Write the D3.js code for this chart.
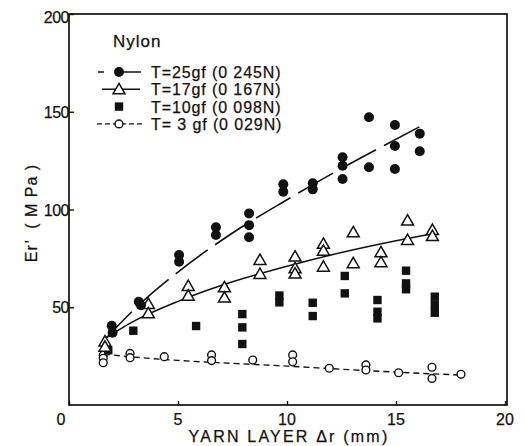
<!DOCTYPE html>
<html>
<head>
<meta charset="utf-8">
<script src="https://cdn.jsdelivr.net/npm/d3@7"></script>
<style>
  body { margin: 0; background: #fff; }
  svg text { font-family: "Liberation Sans", Arial, Helvetica, sans-serif; fill: #111; stroke: #111; stroke-width: 0.25px; }
</style>
</head>
<body>
<svg id="chart" width="527" height="446"></svg>
<script>
// measured points, [layer mm, Er' MPa]
var t25Pts = [[1.96,40.5],[2.0,37],[3.2,52.8],[3.3,51],[5.05,76.7],[5.05,73.3],[6.74,90.9],[6.74,87],
  [8.26,98],[8.26,92],[8.26,85.8],[9.83,112.9],[9.83,109.1],[11.18,113.4],[11.18,110.3],
  [12.55,126.7],[12.55,122.4],[12.55,115.6],[13.76,147.2],[13.76,121.6],[14.95,143.2],
  [14.95,132.5],[14.95,120.7],[16.09,138.8],[16.09,129.8]];
var t17Pts = [[1.65,32.5],[1.65,29.8],[3.64,51.7],[3.64,46.9],[5.47,60.9],[5.47,55.9],[7.13,60.2],
  [7.13,54.9],[8.76,74.2],[8.76,67],[10.37,75.9],[10.37,69.9],[10.37,67.2],[11.67,82.4],
  [11.67,78.9],[11.67,70.7],[13.04,88.3],[13.04,72.5],[14.31,78.1],[14.31,73],[15.53,94.3],
  [15.53,84.4],[16.67,89.5],[16.67,86.4]];
var t10Pts = [[1.8,28],[2.95,38],[5.83,40.4],[7.95,46.5],[7.95,39.7],[7.95,31.2],[9.65,56],[9.65,52.5],
  [11.18,52.3],[11.18,45.5],[12.65,66],[12.65,57.1],[14.15,53.7],[14.15,47.7],[14.15,44.3],
  [15.46,68.7],[15.46,62.2],[15.46,59.2],[16.78,55.4],[16.78,51.2],[16.78,47.2]];
var t3Pts = [[1.57,25.5],[1.57,23.9],[1.57,21.6],[2.8,26.4],[2.8,24.2],[4.37,24.7],[6.54,25.6],
  [6.54,22.7],[8.43,23],[10.26,25.6],[10.26,22.1],[11.94,18.8],[13.62,20.5],[13.62,17.9],
  [15.12,16.5],[16.65,19.3],[16.65,13.6],[17.98,15.7]];

// fitted curves
var t25Fit = [[1.6,33],[3,49],[5,68],[7.5,88],[10,105],[12.5,121],[14.5,133],[16.2,143]];
var t17Fit = [[1.65,34],[3,43],[5,53],[7.5,63],[10,71],[12.5,78],[15,84],[16.6,87.5]];
var t3Fit = [[1.6,26],[3,24.5],[5,22.8],[7.5,21.3],[10,19.9],[12.5,18.3],[15,16.8],[18,15.3]];

var xTicks = [0, 5, 10, 15, 20];
var yTicks = [50, 100, 150, 200];
var legendLabels = ["T=25gf (0 245N)", "T=17gf (0 167N)", "T=10gf (0 098N)", "T= 3 gf (0 029N)"];

var svg = d3.select("#chart");
var ink = "#111";

var x = d3.scaleLinear().domain([0, 20]).range([69, 505]);
var y = d3.scaleLinear().domain([0, 200]).range([405, 14]);

// frame
svg.append("rect")
  .attr("x", x(0)).attr("y", y(200))
  .attr("width", x(20) - x(0) + 2).attr("height", y(0) - y(200))
  .attr("fill", "none").attr("stroke", ink).attr("stroke-width", 1.7);

// axes, ticks inward
var xAxis = svg.append("g").attr("transform", "translate(0," + y(0) + ")")
  .call(d3.axisTop(x).tickValues(xTicks).tickSize(4).tickFormat(""));
xAxis.select(".domain").remove();
xAxis.selectAll("line").attr("stroke", ink).attr("stroke-width", 1.4);

svg.selectAll(".xlab").data(xTicks).enter().append("text")
  .attr("x", function(d) { return d === 0 ? x(d) - 8 : x(d); })
  .attr("y", y(0) + 20)
  .attr("text-anchor", "middle")
  .style("font-size", "16px")
  .text(function(d) { return d; });

var yAxis = svg.append("g").attr("transform", "translate(" + x(0) + ",0)")
  .call(d3.axisRight(y).tickValues(yTicks).tickSize(5).tickFormat(""));
yAxis.select(".domain").remove();
yAxis.selectAll("line").attr("stroke", ink).attr("stroke-width", 1.4);

svg.selectAll(".ylab").data(yTicks).enter().append("text")
  .attr("x", x(0))
  .attr("y", function(d) { return y(d) + 6 + (d === 200 ? 3 : 0); })
  .attr("text-anchor", "end")
  .style("font-size", "16px")
  .style("letter-spacing", "-0.5px")
  .text(function(d) { return d; });

// axis titles
svg.append("text")
  .attr("x", 289).attr("y", 442)
  .attr("text-anchor", "middle")
  .style("font-size", "16px")
  .style("letter-spacing", "2.2px")
  .text("YARN LAYER \u0394r (mm)");

svg.append("text")
  .attr("transform", "translate(37,213) rotate(-90)")
  .attr("text-anchor", "middle")
  .style("font-size", "16px")
  .style("letter-spacing", "1px")
  .attr("xml:space", "preserve")
  .text("Er\u2019  ( M Pa )");

// fitted lines
var line = d3.line()
  .x(function(d) { return x(d[0]); })
  .y(function(d) { return y(d[1]); })
  .curve(d3.curveMonotoneX);

svg.append("path").datum(t25Fit).attr("d", line)
  .attr("fill", "none").attr("stroke", ink).attr("stroke-width", 1.6)
  .attr("stroke-dasharray", "40,9");
svg.append("path").datum(t17Fit).attr("d", line)
  .attr("fill", "none").attr("stroke", ink).attr("stroke-width", 1.5);
svg.append("path").datum(t3Fit).attr("d", line)
  .attr("fill", "none").attr("stroke", ink).attr("stroke-width", 1.4)
  .attr("stroke-dasharray", "6,4");

// markers
var triPath = d3.symbol().type(d3.symbolTriangle).size(62)();

function drawMarker(sel, kind) {
  if (kind === "disc") {
    sel.append("circle").attr("r", 5).attr("fill", ink);
  } else if (kind === "tri") {
    sel.append("path").attr("d", triPath).attr("transform", "translate(0,1)")
      .attr("fill", "#fff").attr("stroke", ink).attr("stroke-width", 1.5);
  } else if (kind === "square") {
    sel.append("rect").attr("x", -4.2).attr("y", -4.2).attr("width", 8.4).attr("height", 8.4).attr("fill", ink);
  } else {
    sel.append("circle").attr("r", 3.9).attr("fill", "#fff").attr("stroke", ink).attr("stroke-width", 1.4);
  }
}

var series = [
  {pts: t3Pts, kind: "ring"},
  {pts: t10Pts, kind: "square"},
  {pts: t17Pts, kind: "tri"},
  {pts: t25Pts, kind: "disc"}
];

series.forEach(function(s) {
  svg.selectAll(null).data(s.pts).enter().append("g")
    .attr("transform", function(d) { return "translate(" + x(d[0]) + "," + y(d[1]) + ")"; })
    .each(function() { drawMarker(d3.select(this), s.kind); });
});

// legend
svg.append("text").attr("x", 113).attr("y", 47)
  .style("font-size", "17px").style("letter-spacing", "1px").text("Nylon");

var legKinds = ["disc", "tri", "square", "ring"];
legendLabels.forEach(function(lab, i) {
  var cy = 72 + i * 17.3;
  var g = svg.append("g");
  if (i === 0) {
    g.append("line").attr("x1", 98).attr("x2", 104).attr("y1", cy).attr("y2", cy)
      .attr("stroke", ink).attr("stroke-width", 1.5);
    g.append("line").attr("x1", 118).attr("x2", 141).attr("y1", cy).attr("y2", cy)
      .attr("stroke", ink).attr("stroke-width", 1.5);
  } else if (i === 1) {
    g.append("line").attr("x1", 102).attr("x2", 140).attr("y1", cy).attr("y2", cy)
      .attr("stroke", ink).attr("stroke-width", 1.5);
  } else if (i === 3) {
    g.append("line").attr("x1", 97).attr("x2", 142).attr("y1", cy).attr("y2", cy)
      .attr("stroke", ink).attr("stroke-width", 1.3).attr("stroke-dasharray", "5,3");
  }
  var m = g.append("g").attr("transform", "translate(119," + cy + ")");
  drawMarker(m, legKinds[i]);
  g.append("text").attr("x", 151).attr("y", cy + 6)
    .style("font-size", "16px")
    .style("letter-spacing", "0.9px")
    .attr("xml:space", "preserve")
    .text(lab);
});
</script>
</body>
</html>
